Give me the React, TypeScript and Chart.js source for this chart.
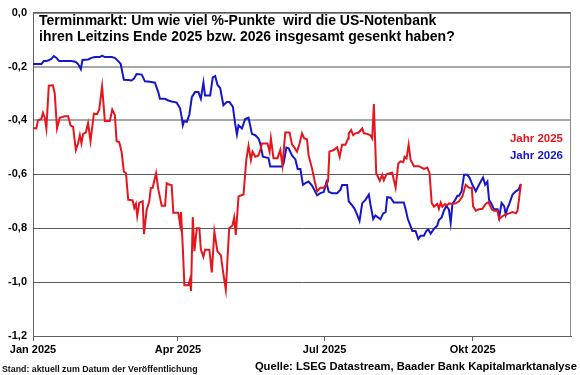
import React, { useEffect, useRef } from "react";
import { Chart, registerables } from "chart.js";

Chart.register(...registerables);

// ---- Data ----
const TITLE_LINES = [
  "Terminmarkt: Um wie viel %-Punkte  wird die US-Notenbank",
  "ihren Leitzins Ende 2025 bzw. 2026 insgesamt gesenkt haben?",
];
const SOURCE_TEXT = "Quelle: LSEG Datastream, Baader Bank Kapitalmarktanalyse";
const STAND_TEXT = "Stand: aktuell zum Datum der Veröffentlichung";
const SERIES_LABELS = ["Jahr 2025", "Jahr 2026"];

// x = days since 1 Jan 2025
const X_TICK_DAYS = [0, 90, 181, 273];
const X_TICK_LABELS = ["Jan 2025", "Apr 2025", "Jul 2025", "Okt 2025"];
const X_MIN_DAY = 0;
const X_MAX_DAY = 334;
const Y_MIN = -1.2;
const Y_MAX = 0;
const Y_STEP = 0.2;

// [day, %-points]
const JAHR_2025: [number, number][] = [
  [0, -0.428], [2.1, -0.43], [3.1, -0.4], [5.2, -0.395], [6.2, -0.372], [7.3, -0.39], [8.3, -0.43],
  [9.8, -0.271], [12.4, -0.27], [13.5, -0.3], [14.9, -0.43], [16.6, -0.39], [19.7, -0.385], [21.8, -0.385],
  [23.3, -0.418], [24.9, -0.424], [26.6, -0.51], [28, -0.485], [29.1, -0.455], [30.1, -0.485], [31.1, -0.45],
  [32.8, -0.445], [34.2, -0.41], [35.7, -0.477], [37.8, -0.375], [39.8, -0.377], [41.1, -0.36], [42.9, -0.274],
  [44.6, -0.402], [47.7, -0.402], [49.2, -0.36], [50.8, -0.38], [51.9, -0.477], [53.5, -0.48], [55, -0.516],
  [56.4, -0.59], [57.7, -0.595], [59.1, -0.694], [61.9, -0.697], [62.9, -0.725], [63.9, -0.71], [64.7, -0.755],
  [66, -0.705], [68.1, -0.7], [68.9, -0.822], [70.6, -0.73], [72.2, -0.7], [73.1, -0.651], [74.3, -0.65],
  [76.4, -0.596], [77.8, -0.656], [79.9, -0.717], [82, -0.717], [83, -0.633], [84.4, -0.638], [86.1, -0.64],
  [87.1, -0.743], [90.2, -0.743], [91.3, -0.785], [91.9, -0.74], [93, -0.872], [94, -1.012], [96.5, -1.012],
  [97.5, -0.99], [98.1, -1.033], [99.2, -0.759], [100.2, -0.885], [101.7, -0.8], [103.3, -0.8], [104.2, -0.878],
  [105.8, -0.906], [106.8, -0.88], [109.5, -0.88], [111, -0.964], [112.6, -0.813], [114.5, -0.886], [116.6, -0.9],
  [118.2, -0.97], [119.7, -1.028], [121.8, -0.8], [123.8, -0.79], [124.9, -0.76], [125.9, -0.825], [127.6, -0.682],
  [130.7, -0.675], [132.4, -0.547], [133.8, -0.494], [135.3, -0.547], [136.3, -0.516], [138, -0.535], [140, -0.53],
  [141.1, -0.51], [142.1, -0.486], [145.6, -0.486], [146.9, -0.516], [147.7, -0.467], [149.3, -0.54], [151.8, -0.54],
  [153.5, -0.51], [154.9, -0.567], [156.6, -0.445], [159.3, -0.445], [160.8, -0.49], [162.2, -0.5], [163.9, -0.516],
  [165.5, -0.486], [167, -0.448], [168.4, -0.467], [170.1, -0.47], [171.1, -0.53], [173.2, -0.578], [174.9, -0.626],
  [176.4, -0.663], [178.4, -0.65], [180.5, -0.65], [182, -0.64], [183.2, -0.625], [184, -0.516], [186.7, -0.51],
  [188.8, -0.5], [190.4, -0.535], [191.9, -0.49], [194, -0.49], [195.6, -0.467], [196, -0.448], [197.5, -0.436],
  [198.8, -0.455], [200.2, -0.448], [202.2, -0.445], [204.4, -0.43], [205.4, -0.448], [207.5, -0.45], [209.5, -0.455],
  [210.6, -0.467], [211.6, -0.339], [213.1, -0.596], [215.3, -0.624], [216.8, -0.602], [217.8, -0.622], [219.5, -0.6],
  [221.5, -0.596], [223, -0.594], [225.1, -0.649], [226.8, -0.56], [228.2, -0.552], [229.9, -0.555], [230.7, -0.535],
  [231.9, -0.541], [233.2, -0.49], [234.4, -0.546], [236.5, -0.57], [239.6, -0.57], [242.7, -0.58], [244.8, -0.575],
  [246.2, -0.596], [247.5, -0.706], [248.9, -0.72], [251, -0.71], [252, -0.728], [253.1, -0.705], [254.1, -0.72],
  [255.8, -0.71], [257.2, -0.715], [258.2, -0.708], [260.4, -0.71], [262.4, -0.708], [264.5, -0.7], [266.6, -0.682],
  [268.6, -0.639], [270.7, -0.65], [272.4, -0.65], [273.2, -0.718], [274.9, -0.735], [276.9, -0.73], [279, -0.728],
  [281.1, -0.709], [282.8, -0.703], [284.8, -0.73], [286.2, -0.735], [288.4, -0.735], [289.4, -0.767], [291.5, -0.755],
  [293.5, -0.749], [295.6, -0.745], [297.7, -0.74], [299.8, -0.745], [300.8, -0.735], [301.8, -0.688], [302.9, -0.636],
];

const JAHR_2026: [number, number][] = [
  [0, -0.191], [5.2, -0.191], [6.7, -0.18], [8.3, -0.18], [10, -0.176], [11.4, -0.172], [12.9, -0.161],
  [14.6, -0.168], [16.2, -0.18], [19.7, -0.18], [23.9, -0.18], [26.6, -0.183], [28, -0.191], [29.7, -0.21],
  [30.7, -0.176], [34.2, -0.174], [36.3, -0.168], [38.4, -0.165], [41.5, -0.165], [42.9, -0.16], [44.6, -0.165],
  [48.8, -0.165], [50.8, -0.168], [52.9, -0.18], [54.4, -0.19], [56.4, -0.249], [59.1, -0.25], [61.2, -0.252],
  [62.7, -0.245], [64.3, -0.228], [67.5, -0.23], [69.5, -0.255], [72.6, -0.257], [75.7, -0.26], [77.8, -0.296],
  [78.8, -0.32], [81.9, -0.32], [84, -0.326], [86.1, -0.33], [89.2, -0.334], [91.3, -0.355], [92.3, -0.388],
  [93, -0.418], [93.8, -0.403], [95.5, -0.405], [97.1, -0.378], [98.6, -0.314], [100.6, -0.295], [102.7, -0.295],
  [104.2, -0.32], [105.8, -0.259], [106.8, -0.308], [110, -0.308], [111.6, -0.24], [113.1, -0.235], [114.5, -0.268],
  [116.2, -0.28], [118.2, -0.344], [120.3, -0.332], [122, -0.332], [124.1, -0.35], [125.5, -0.412], [126.6, -0.452],
  [127.6, -0.418], [129.7, -0.43], [131.7, -0.395], [133.8, -0.39], [134.8, -0.418], [135.9, -0.45], [138, -0.455],
  [140, -0.467], [141.1, -0.486], [142.7, -0.535], [146.2, -0.54], [147.3, -0.571], [154.6, -0.571], [155.6, -0.56],
  [157.3, -0.501], [158.7, -0.504], [160.8, -0.53], [162.9, -0.545], [164.3, -0.58], [166, -0.58], [167.6, -0.639],
  [169.1, -0.633], [171.1, -0.627], [173.2, -0.642], [174.9, -0.66], [176.4, -0.678], [178.4, -0.67], [180.5, -0.666],
  [182.1, -0.63], [183.6, -0.665], [185.7, -0.67], [188.8, -0.67], [190.9, -0.657], [191.9, -0.64], [195, -0.64],
  [196, -0.7], [198.1, -0.715], [199.6, -0.727], [201.2, -0.75], [202.7, -0.773], [204.4, -0.707], [206.4, -0.695],
  [208.5, -0.675], [209.5, -0.712], [211.2, -0.766], [212.6, -0.753], [215.7, -0.767], [217.4, -0.745], [218.9, -0.74],
  [219.9, -0.685], [222, -0.687], [224, -0.705], [226.1, -0.705], [230.2, -0.705], [231.3, -0.729], [232.7, -0.766],
  [234, -0.786], [235.5, -0.81], [237.5, -0.81], [239.2, -0.84], [240.6, -0.828], [242.7, -0.828], [244.2, -0.81],
  [245.4, -0.805], [246.9, -0.82], [248.9, -0.803], [251, -0.79], [252, -0.77], [253.7, -0.76], [255.1, -0.735],
  [256.6, -0.717], [258.2, -0.73], [259.3, -0.78], [260.4, -0.71], [262, -0.696], [263.5, -0.68], [264.5, -0.68],
  [266.1, -0.663], [267.6, -0.602], [269.7, -0.602], [271.1, -0.614], [272.8, -0.639], [274.9, -0.663], [276.9, -0.639],
  [278, -0.627], [279.4, -0.612], [280.7, -0.639], [282.1, -0.627], [283.1, -0.694], [284.8, -0.712], [286.2, -0.73],
  [288.4, -0.73], [289.4, -0.76], [290.9, -0.706], [292.5, -0.718], [293.5, -0.749], [294.6, -0.724], [295.6, -0.712],
  [296.6, -0.694], [297.7, -0.675], [299.8, -0.663], [301.4, -0.657], [302.9, -0.636],
];

const RED = "rgb(228, 22, 30)";
const BLUE = "rgb(22, 22, 200)";
const FONT = "'Liberation Sans', Arial, sans-serif";

function fmtY(v: number): string {
  const r = Math.round(v * 10) / 10;
  if (r === 0) return "0,0";
  return r.toFixed(1).replace(".", ",");
}

export default function App() {
  const ref = useRef<HTMLCanvasElement>(null);

  useEffect(() => {
    const canvas = ref.current;
    if (!canvas) return;

    const overlay = {
      id: "overlay",
      afterDraw(chart: any) {
        const { ctx, chartArea } = chart;
        const { left, right, top, bottom } = chartArea;
        ctx.save();
        // frame top & right
        ctx.strokeStyle = "#8a8a8a";
        ctx.lineWidth = 1;
        ctx.beginPath();
        ctx.moveTo(left, Math.round(top) + 0.5);
        ctx.lineTo(right, Math.round(top) + 0.5);
        ctx.moveTo(Math.round(right) - 0.5, top);
        ctx.lineTo(Math.round(right) - 0.5, bottom);
        ctx.stroke();

        // title
        ctx.fillStyle = "#000";
        ctx.textAlign = "left";
        ctx.textBaseline = "alphabetic";
        ctx.font = `bold 14px ${FONT}`;
        ctx.fillText(TITLE_LINES[0], 39, 25);
        ctx.fillText(TITLE_LINES[1], 39, 41);

        // legend labels
        ctx.textAlign = "right";
        ctx.font = `bold 11.5px ${FONT}`;
        ctx.fillStyle = RED;
        ctx.fillText(SERIES_LABELS[0], 563, 142);
        ctx.fillStyle = BLUE;
        ctx.fillText(SERIES_LABELS[1], 563, 159);

        // footer
        ctx.fillStyle = "#000";
        ctx.textAlign = "right";
        ctx.font = `bold 11.2px ${FONT}`;
        ctx.fillText(SOURCE_TEXT, 577, 370);
        ctx.textAlign = "left";
        ctx.font = `bold 8.8px ${FONT}`;
        ctx.fillStyle = "#111";
        ctx.fillText(STAND_TEXT, 2, 372);
        ctx.restore();
      },
    };

    const chart = new Chart(canvas, {
      type: "line",
      data: {
        datasets: [
          {
            label: SERIES_LABELS[0],
            data: JAHR_2025.map(([x, y]) => ({ x, y })),
            borderColor: RED,
            backgroundColor: RED,
            borderWidth: 2,
            pointRadius: 0,
            tension: 0,
          },
          {
            label: SERIES_LABELS[1],
            data: JAHR_2026.map(([x, y]) => ({ x, y })),
            borderColor: BLUE,
            backgroundColor: BLUE,
            borderWidth: 2,
            pointRadius: 0,
            tension: 0,
          },
        ],
      },
      options: {
        responsive: false,
        animation: false,
        events: [],
        layout: { padding: { top: 10, right: 9, left: 0, bottom: 0 } },
        plugins: {
          legend: { display: false },
          tooltip: { enabled: false },
          title: { display: false },
        },
        scales: {
          x: {
            type: "linear",
            min: X_MIN_DAY,
            max: X_MAX_DAY,
            afterBuildTicks: (scale: any) => {
              scale.ticks = X_TICK_DAYS.map((v) => ({ value: v }));
            },
            afterFit: (scale: any) => {
              scale.height = 39;
            },
            ticks: {
              autoSkip: false,
              maxRotation: 0,
              padding: 2,
              color: "#000",
              font: { family: FONT, size: 11, weight: "bold" },
              callback: (v: any) => {
                const i = X_TICK_DAYS.indexOf(Number(v));
                return i >= 0 ? X_TICK_LABELS[i] : "";
              },
            },
            grid: {
              drawOnChartArea: false,
              drawTicks: true,
              tickLength: 5,
              color: "#606060",
            },
            border: { color: "#606060", width: 1 },
          },
          y: {
            min: Y_MIN,
            max: Y_MAX,
            afterFit: (scale: any) => {
              scale.width = 33;
            },
            ticks: {
              stepSize: Y_STEP,
              padding: 6,
              color: "#000",
              font: { family: FONT, size: 11, weight: "bold" },
              callback: (v: any) => fmtY(Number(v)),
            },
            grid: {
              drawTicks: false,
              color: (c: any) => {
                const v = Math.round((c.tick?.value ?? 0) * 10) / 10;
                if (v === -0.2 || v === -0.4) return "#a8a8a8";
                return "#5a5a5a";
              },
              lineWidth: (c: any) => {
                const v = Math.round((c.tick?.value ?? 0) * 10) / 10;
                return v === -0.2 || v === -0.4 ? 2 : 1;
              },
            },
            border: { color: "#606060", width: 1 },
          },
        },
      },
      plugins: [overlay],
    } as any);

    return () => chart.destroy();
  }, []);

  return (
    <div
      style={{
        position: "fixed",
        left: 0,
        top: 0,
        width: 580,
        height: 375,
        background: "#fff",
      }}
    >
      <canvas ref={ref} width={580} height={375} style={{ display: "block" }} />
    </div>
  );
}
